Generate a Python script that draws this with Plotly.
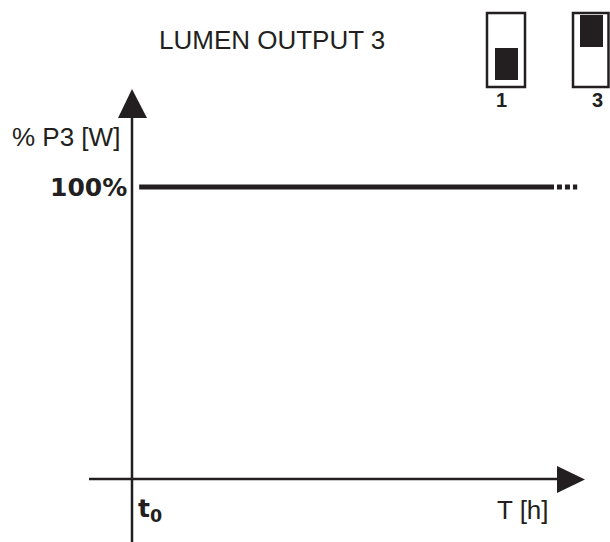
import plotly.graph_objects as go

# time axis in arbitrary units (0 = t0, 1 = end of drawn line), output in % of P3
level_t = [0.017, 1.0]
level_pct = [100, 100]
cont_t = [1.007, 1.055]
cont_pct = [100, 100]

W, H = 610, 542
X0, XS = 132, 422      # pixel of t0, pixels per time unit
Y0, YS = 479, 2.92     # pixel of 0 %, pixels per percent
INK = "#231f20"


def dx(p):
    return (p - X0) / XS


def dy(p):
    return (Y0 - p) / YS


def px(p):
    return p / W


def py(p):
    return 1 - p / H


fig = go.Figure()
fig.add_trace(go.Scatter(x=level_t, y=level_pct, mode="lines",
                         line=dict(color=INK, width=5), hoverinfo="skip"))
fig.add_trace(go.Scatter(x=cont_t, y=cont_pct, mode="lines",
                         line=dict(color=INK, width=5, dash="5px,3px"), hoverinfo="skip"))

shapes = [
    # axes
    dict(type="line", xref="x", yref="y", x0=0, x1=0, y0=dy(542), y1=dy(117),
         line=dict(color=INK, width=2.5)),
    dict(type="line", xref="x", yref="y", x0=dx(89), x1=dx(558), y0=0, y1=0,
         line=dict(color=INK, width=2.5)),
    # arrow heads
    dict(type="path", xref="paper", yref="paper",
         path=f"M {px(132)} {py(89)} L {px(118)} {py(118)} L {px(147)} {py(118)} Z",
         fillcolor=INK, line=dict(width=0)),
    dict(type="path", xref="paper", yref="paper",
         path=f"M {px(585)} {py(479.5)} L {px(557)} {py(466)} L {px(557)} {py(493)} Z",
         fillcolor=INK, line=dict(width=0)),
    # DIP switches
    dict(type="rect", xref="paper", yref="paper", x0=px(487), x1=px(525), y0=py(87), y1=py(13),
         line=dict(color=INK, width=2.5)),
    dict(type="rect", xref="paper", yref="paper", x0=px(495), x1=px(518), y0=py(80), y1=py(48),
         fillcolor=INK, line=dict(width=0)),
    dict(type="rect", xref="paper", yref="paper", x0=px(573), x1=px(608.5), y0=py(87), y1=py(13),
         line=dict(color=INK, width=2.5)),
    dict(type="rect", xref="paper", yref="paper", x0=px(580), x1=px(603), y0=py(47), y1=py(15),
         fillcolor=INK, line=dict(width=0)),
]

reg = dict(family="Liberation Sans, Arial, sans-serif", color=INK, size=26)
bold = dict(family="DejaVu Sans, sans-serif", color=INK, size=25, weight="bold")
small_bold = dict(family="Liberation Sans, Arial, sans-serif", color=INK, size=20, weight="bold")


def label(text, x, y, font, xanchor="center"):
    return dict(text=text, x=px(x), y=py(y), xref="paper", yref="paper",
                showarrow=False, xanchor=xanchor, yanchor="middle", font=font)


annotations = [
    label("LUMEN OUTPUT 3", 157, 40, reg, "left"),
    label("% P3 [W]", 10, 137, reg, "left"),
    label("100%", 129, 187, bold, "right"),
    label("t<sub>0</sub>", 136, 510, bold, "left"),
    label("T [h]", 495, 510, reg, "left"),
    label("1", 501, 100, small_bold),
    label("3", 597, 100, small_bold),
]

fig.update_layout(
    width=W, height=H, autosize=False,
    margin=dict(l=0, r=0, t=0, b=0),
    paper_bgcolor="white", plot_bgcolor="white",
    showlegend=False,
    xaxis=dict(range=[dx(0), dx(W)], visible=False, fixedrange=True),
    yaxis=dict(range=[dy(H), dy(0)], visible=False, fixedrange=True),
    shapes=shapes, annotations=annotations,
)

fig.write_html("out.html", config={"displayModeBar": False},
               post_script="document.body.style.margin='0';")
